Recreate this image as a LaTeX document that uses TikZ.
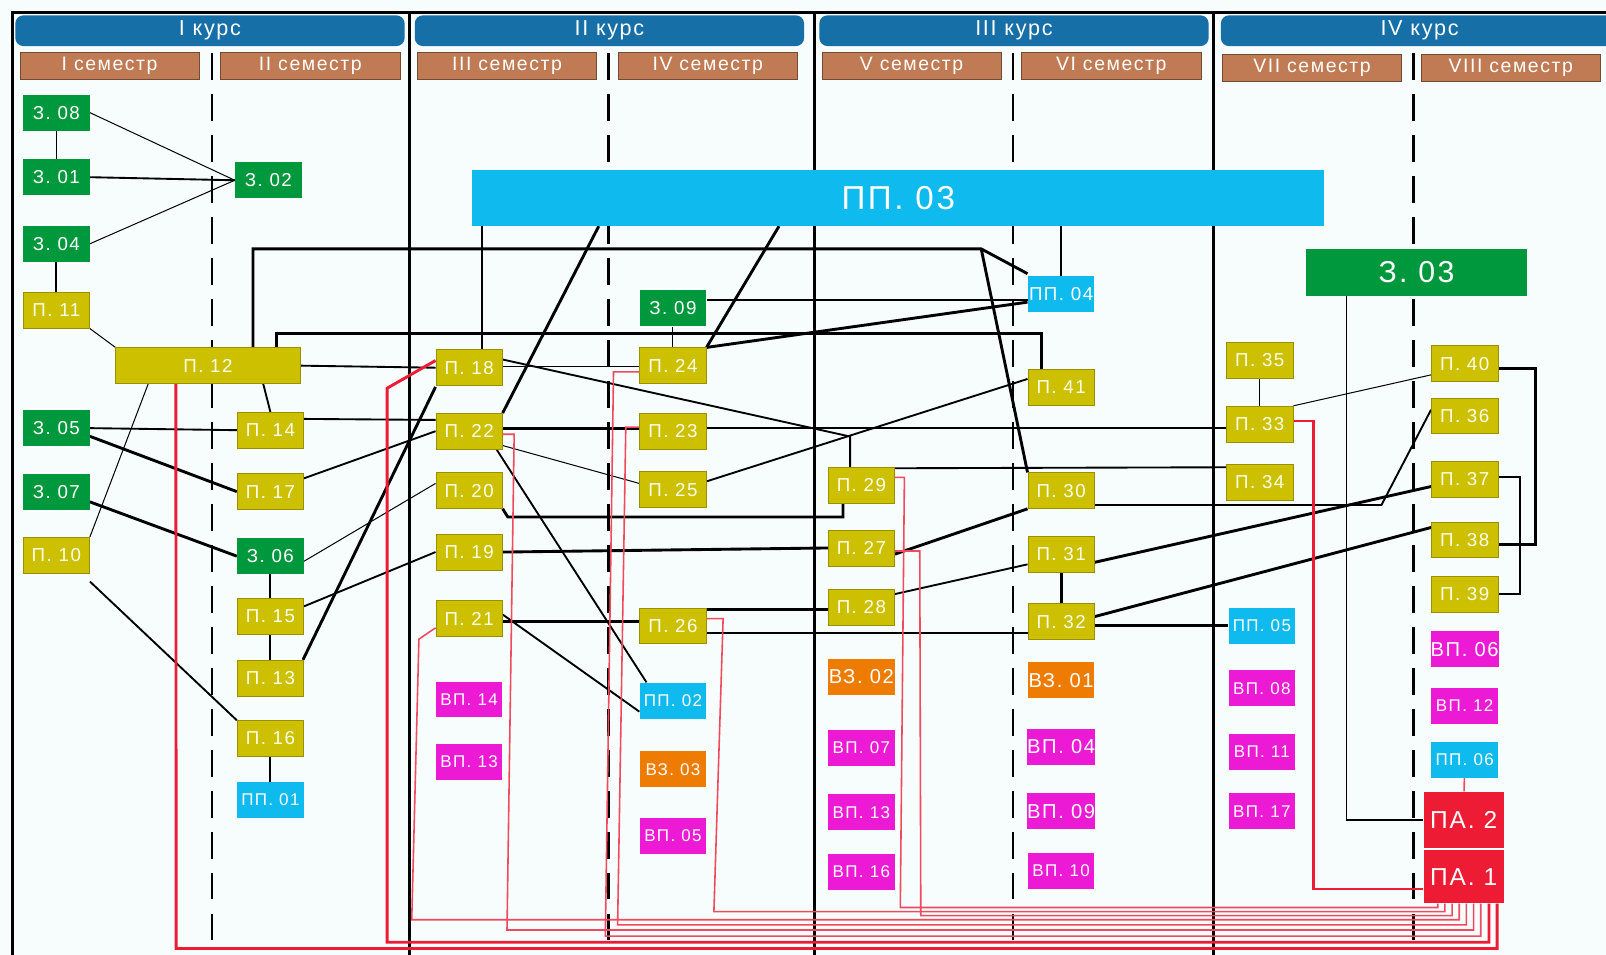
\documentclass[tikz,border=0pt]{standalone}
\usepackage{fontspec}
\setmainfont{Liberation Sans}[LetterSpace=8]
\usetikzlibrary{calc}
\usepackage{color}
\definecolor{bgpaper}{RGB}{247,252,252}
\definecolor{kursblue}{RGB}{22,111,166}
\definecolor{semrust}{RGB}{192,123,84}
\definecolor{zgreen}{RGB}{0,152,60}
\definecolor{polive}{RGB}{204,192,0}
\definecolor{ppcyan}{RGB}{14,186,238}
\definecolor{vpmag}{RGB}{236,26,212}
\definecolor{vzorange}{RGB}{238,124,2}
\definecolor{pared}{RGB}{237,27,52}
\newcommand{\widthbox}{1.625cm}
\newcommand{\heightbox}{0.875cm}
\pgfdeclarelayer{back}
\pgfdeclarelayer{lines}
\pgfsetlayers{back,lines,main}
\tikzset{
    common/.style={rectangle, minimum width=\widthbox, minimum height=\heightbox, inner sep=0pt, text=white, font=\fontsize{13}{13}\selectfont},
    zbox/.style={common, fill=zgreen},
    pbox/.style={common, fill=polive, draw=polive!75!black, line width=0.4pt, text=white!92!yellow},
    ppbox/.style={common, fill=ppcyan},
    vpbox/.style={common, fill=vpmag},
    vzbox/.style={common, fill=vzorange},
    pabox/.style={common, fill=pared, minimum width=1.95cm, font=\fontsize{17}{17}\selectfont},
    smalltext/.style={font=\fontsize{11.8}{11.8}\selectfont},
    bigtext/.style={font=\fontsize{14}{14}\selectfont},
    kurs/.style={rectangle, rounded corners=0.2cm, fill=kursblue, text=white, minimum height=0.75cm, font=\fontsize{15}{15}\selectfont},
    sem/.style={rectangle, fill=semrust, draw=semrust!60!black, line width=0.4pt, text=white, minimum width=4.375cm, minimum height=0.625cm, font=\fontsize{13.5}{13.5}\selectfont},
    slim/.style={line width=0.7pt},
    link/.style={line width=1.3pt},
    heavy/.style={line width=2pt},
    redlink/.style={draw=pared!80!white, line width=1.1pt},
    redheavy/.style={draw=pared, line width=2pt},
    sep/.style={line width=1.8pt},
    semsep/.style={line width=2pt, dash pattern=on 0.65cm off 0.35cm},
}

\begin{document}
\begin{tikzpicture}[x=0.025cm, y=-0.025cm]
    \useasboundingbox (0,0) rectangle (1568,932);
    \begin{pgfonlayer}{back}
        \fill[bgpaper] (0,0) rectangle (1568,932);
        \draw[sep] (1568,12) -- (12,12) -- (12,932);
        \foreach \x in {400,795,1185} \draw[sep] (\x,12) -- (\x,932);
        \foreach \x in {207,594,989,1380} \draw[semsep] (\x,52) -- (\x,932);
    \end{pgfonlayer}

    \node[kurs, minimum width=9.5cm] (k1) at (205,30) {I курс};
    \node[kurs, minimum width=9.5cm] (k2) at (595,30) {II курс};
    \node[kurs, minimum width=9.5cm] (k3) at (990,30) {III курс};
    \node[kurs, minimum width=9.7cm] (k4) at (1386,30) {IV курс};

    \node[sem] (s1) at (107,64) {I семестр};
    \node[sem] (s2) at (303,64) {II семестр};
    \node[sem] (s3) at (495,64) {III семестр};
    \node[sem] (s4) at (691,64) {IV семестр};
    \node[sem] (s5) at (890,64) {V семестр};
    \node[sem] (s6) at (1085,64) {VI семестр};
    \node[sem] (s7) at (1281,66) {VII семестр};
    \node[sem] (s8) at (1475,66) {VIII семестр};

    \node[ppbox, minimum width=20.8cm, minimum height=1.375cm, font=\fontsize{23}{23}\selectfont] (pp03) at (877,193) {ПП. 03};
    \node[zbox, minimum width=5.4cm, minimum height=1.15cm, font=\fontsize{21}{21}\selectfont] (z03) at (1383,266) {З. 03};
    \node[pbox, minimum width=4.5cm] (p12) at (203,357) {П. 12};

    \path (55,110) node[zbox] (z08) {З. 08}
        ++(0,63) node[zbox] (z01) {З. 01}
        ++(0,65) node[zbox] (z04) {З. 04}
        ++(0,65) node[pbox] (p11) {П. 11}
        ++(0,115) node[zbox] (z05) {З. 05}
        ++(0,62) node[zbox] (z07) {З. 07}
        ++(0,62) node[pbox] (p10) {П. 10};

    \path (262,176) node[zbox] (z02) {З. 02};
    \path (264,420) node[pbox] (p14) {П. 14}
        ++(0,60) node[pbox] (p17) {П. 17}
        ++(0,63) node[zbox] (z06) {З. 06}
        ++(0,59) node[pbox] (p15) {П. 15}
        ++(0,60) node[pbox] (p13) {П. 13}
        ++(0,59) node[pbox] (p16) {П. 16}
        ++(0,60) node[ppbox, smalltext] (pp01) {ПП. 01};

    \path (458,359) node[pbox] (p18) {П. 18}
        ++(0,62) node[pbox] (p22) {П. 22}
        ++(0,58) node[pbox] (p20) {П. 20}
        ++(0,60) node[pbox] (p19) {П. 19}
        ++(0,65) node[pbox] (p21) {П. 21}
        ++(0,79) node[vpbox, smalltext] (vp14) {ВП. 14}
        ++(0,61) node[vpbox, smalltext] (vp13a) {ВП. 13};

    \path (657,301) node[zbox] (z09) {З. 09}
        ++(0,56) node[pbox] (p24) {П. 24}
        ++(0,64) node[pbox] (p23) {П. 23}
        ++(0,57) node[pbox] (p25) {П. 25}
        ++(0,133) node[pbox] (p26) {П. 26}
        ++(0,73) node[ppbox, smalltext] (pp02) {ПП. 02}
        ++(0,67) node[vzbox, smalltext] (vz03) {ВЗ. 03}
        ++(0,65) node[vpbox, smalltext] (vp05) {ВП. 05};

    \path (841,474) node[pbox] (p29) {П. 29}
        ++(0,61) node[pbox] (p27) {П. 27}
        ++(0,58) node[pbox] (p28) {П. 28}
        ++(0,68) node[vzbox, bigtext] (vz02) {ВЗ. 02}
        ++(0,69) node[vpbox, smalltext] (vp07) {ВП. 07}
        ++(0,63) node[vpbox, smalltext] (vp13b) {ВП. 13}
        ++(0,58) node[vpbox, smalltext] (vp16) {ВП. 16};

    \path (1036,287) node[ppbox] (pp04) {ПП. 04}
        ++(0,91) node[pbox] (p41) {П. 41}
        ++(0,101) node[pbox] (p30) {П. 30}
        ++(0,62) node[pbox] (p31) {П. 31}
        ++(0,66) node[pbox] (p32) {П. 32}
        ++(0,57) node[vzbox, bigtext] (vz01) {ВЗ. 01}
        ++(0,65) node[vpbox, bigtext] (vp04) {ВП. 04}
        ++(0,63) node[vpbox, bigtext] (vp09) {ВП. 09}
        ++(0,58) node[vpbox, smalltext] (vp10) {ВП. 10};

    \path (1230,352) node[pbox] (p35) {П. 35}
        ++(0,62) node[pbox] (p33) {П. 33}
        ++(0,57) node[pbox] (p34) {П. 34};
    \path (1232,611) node[ppbox, smalltext] (pp05) {ПП. 05}
        ++(0,61) node[vpbox, smalltext] (vp08) {ВП. 08}
        ++(0,62) node[vpbox, smalltext] (vp11) {ВП. 11}
        ++(0,58) node[vpbox, smalltext] (vp17) {ВП. 17};

    \path (1430,355) node[pbox] (p40) {П. 40}
        ++(0,51) node[pbox] (p36) {П. 36}
        ++(0,62) node[pbox] (p37) {П. 37}
        ++(0,59) node[pbox] (p38) {П. 38}
        ++(0,53) node[pbox] (p39) {П. 39}
        ++(0,54) node[vpbox, bigtext] (vp06) {ВП. 06}
        ++(0,55) node[vpbox, smalltext] (vp12) {ВП. 12}
        ++(0,53) node[ppbox, smalltext] (pp06) {ПП. 06};
    \node[pabox, minimum height=1.375cm] (pa2) at (1429,800.5) {ПА. 2};
    \node[pabox, minimum height=1.3cm] (pa1) at (1429,856) {ПА. 1};

    \coordinate (bend1) at (958,243);

    \begin{pgfonlayer}{lines}
        % I course
        \draw[slim] (z08) -- (z01);
        \draw[slim] (z08.east) -- (z02.west);
        \draw[link] (z01.east) -- (z02.west);
        \draw[slim] (z04.east) -- (z02.west);
        \draw[link] (z04) -- (p11);
        \draw[slim] (p11.south east) -- (p12.north west);
        \draw[slim] ($(p12.south west)+(32,0)$) -- (p10.north east);
        \draw[link] ($(p12.south)+(54,0)$) -- (p14.north);
        \draw[link] (p12.east) -- (p18.west);
        \draw[link] (z05.east) -- (p14.west);
        \draw[heavy] ($(z05.east)+(0,8)$) -- (p17.west);
        \draw[heavy] ($(z07.east)+(0,10)$) -- (z06.west);
        \draw[link] ($(p10.south east)+(0,8)$) -- (p16.north west);
        \draw[link] ($(p17.east)+(0,-13)$) -- (p22.west);
        \draw[slim] ($(z06.east)+(0,5)$) -- ($(p20.west)+(0,-7)$);
        \draw[link] (z06) -- (p15);
        \draw[link] ($(p15.east)+(0,-10)$) -- (p19.west);
        \draw[link] (p15) -- (p13);
        \draw[heavy] ($(p13.north east)+(-1,0)$) -- ($(p18.south west)+(0,1)$);
        \draw[link] (p16) -- (pp01);
        \draw[link] ($(p14.east)+(0,-11)$) -- ($(p22.west)+(0,-11)$);
        \draw[heavy] ($(p12.north)+(44,0)$) |- (bend1) -- ($(pp04.north west)+(0,-2)$);
        \draw[heavy] (bend1) -- (p30.north west);
        \draw[heavy] ($(p12.north)+(67,0)$) |- ($(p41.north)+(-19,-35)$) -- ($(p41.north)+(-19,0)$);
        % II course
        \draw[link] ($(p18.north)+(13,0)$) -- ++(0,-121);
        \draw[heavy] ($(pp03.south west)+(124,0)$) -- (p22.north east);
        \draw[heavy] ($(pp03.south west)+(300,0)$) -- (p24.north east);
        \draw[heavy] (p24.north east) -- ($(pp04.west)+(0,8)$);
        \draw[link] ($(z09.east)+(0,-8)$) -- ($(pp04.west)+(0,6)$);
        \draw[slim] (z09) -- (p24);
        \draw[link] (pp04.north) -- ++(0,-49);
        \draw[slim] ($(p18.east)+(0,-1)$) -- ($(p24.west)+(0,1)$);
        \draw[link] ($(p18.east)+(0,-8)$) -- ($(p29.north)+(-11,-30)$) -- ($(p29.north)+(-11,0)$);
        \draw[heavy] ($(p22.east)+(0,-3)$) -- ($(p23.west)+(0,-3)$);
        \draw[link] ($(p23.east)+(0,-3)$) -- ($(p33.west)+(0,4)$);
        \draw[slim] ($(p22.east)+(0,14)$) -- ($(p25.west)+(0,-6)$);
        \draw[link] ($(p22.south east)+(-6,0)$) -- ($(pp02.north west)+(7,0)$);
        \draw[heavy] (p20.south east) -- ++(5,8) -| ($(p29.south)+(-18,0)$);
        \draw[link] ($(p25.east)+(0,-8)$) -- ($(p41.west)+(0,-8)$);
        \draw[heavy] (p19.east) -- (p27.west);
        \draw[heavy] ($(p21.east)+(0,3)$) -- ($(p26.west)+(0,-4)$);
        \draw[link] ($(p21.east)+(0,-4)$) -- ($(pp02.south west)+(0,-7)$);
        \draw[heavy] ($(p26.east)+(0,-16)$) -- ($(p28.west)+(0,2)$);
        \draw[heavy] ($(p26.east)+(0,7)$) -- ($(p32.west)+(0,11)$);
        % III course
        \draw[link] ($(p29.north east)+(-15,1)$) -- ($(p34.north west)+(0,3)$);
        \draw[link] ($(p30.east)+(0,14)$) -- ++(280,0) -- ($(p36.west)+(0,-6)$);
        \draw[heavy] ($(p27.east)+(0,6)$) -- (p30.south west);
        \draw[link] ($(p28.east)+(0,-13)$) -- ($(p31.west)+(0,10)$);
        \draw[heavy] (p31) -- (p32);
        \draw[heavy] ($(p31.east)+(0,8)$) -- ($(p37.west)+(0,7)$);
        \draw[heavy] ($(p32.east)+(0,-5)$) -- ($(p38.west)+(0,-12)$);
        \draw[heavy] ($(p32.east)+(0,4)$) -- (pp05.west);
        % IV course
        \draw[slim] (p35) -- (p33);
        \draw[slim] (p33.north east) -- ($(p40.west)+(0,11)$);
        \draw[heavy] ($(p40.east)+(0,5)$) -- ++(36,0) |- ($(p38.east)+(0,5)$);
        \draw[link] ($(p37.east)+(0,-2)$) -- ++(21,0) |- (p39.east);
        \draw[link] ($(z03.south west)+(40,0)$) |- (pa2.west);
        \draw[redlink] (pp06) -- (pa2);
        \draw[redheavy] ($(p33.east)+(0,-3)$) -- (1282,411) |- ($(pa1.west)+(0,12)$);
        % into PA. 1
        \draw[redlink] ($(p29.east)+(0,-8)$) -- (883,466) -- (879,886) -| ($(pa1.south west)+(14,0)$);
        \draw[redlink] ($(p26.east)+(0,-7)$) -- (706,604) -- (697,890) -| ($(pa1.south west)+(21,0)$);
        \draw[redlink] ($(p27.east)+(0,3)$) -- (898,538) -- (899,894) -| ($(pa1.south west)+(28,0)$);
        \draw[redlink] ($(p21.west)+(0,9)$) -- (409,624) -- (402,898) -| ($(pa1.south west)+(35,0)$);
        \draw[redlink] ($(p23.west)+(0,-4)$) -- (611,417) -- (603,903) -| ($(pa1.south west)+(42,0)$);
        \draw[redlink] ($(p22.east)+(0,3)$) -- (502,424) -- (495,908) -| ($(pa1.south west)+(49,0)$);
        \draw[redlink] ($(p24.west)+(0,6)$) -- (599,363) -- (591,914) -| ($(pa1.south west)+(56,0)$);
        \draw[redheavy] ($(p18.west)+(0,-7)$) -- (378,379) -- (378,920) -| ($(pa1.south west)+(64,0)$);
        \draw[redheavy] ($(p12.south west)+(59,0)$) -- (172,926) -| ($(pa1.south west)+(72,0)$);
    \end{pgfonlayer}
\end{tikzpicture}
\end{document}
